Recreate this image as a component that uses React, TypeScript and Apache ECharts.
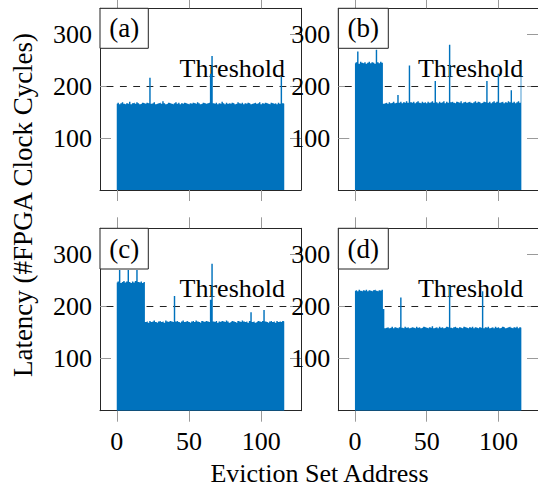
import React, { useEffect, useRef } from "react";
import * as echarts from "echarts";

// ---- data ----
const X_TICKS = [0, 50, 100];
const Y_TICKS = [100, 200, 300];
const THRESHOLD = 200;
const PANEL_LABELS = ["(a)", "(b)", "(c)", "(d)"];
const THRESHOLD_TEXT = "Threshold";
const X_TITLE = "Eviction Set Address";
const Y_TITLE = "Latency (#FPGA Clock Cycles)";

const latencyA = [
  166, 168, 165, 167, 169, 166, 165, 167, 166, 170,
  165, 167, 168, 166, 169, 167, 165, 166, 168, 167,
  166, 168, 167, 216, 166, 167, 169, 165, 166, 167,
  168, 166, 171, 167, 165, 166, 168, 167, 166, 165,
  167, 169, 166, 168, 165, 167, 166, 168, 167, 166,
  165, 167, 166, 168, 167, 166, 169, 167, 165, 166,
  168, 167, 166, 167, 168, 224, 258, 167, 166, 168,
  165, 167, 166, 170, 167, 165, 168, 166, 167, 166,
  168, 167, 165, 166, 169, 167, 166, 168, 165, 167,
  166, 168, 167, 165, 166, 167, 168, 166, 167, 169,
  165, 167, 166, 168, 167, 166, 165, 168, 167, 166,
  167, 165, 168, 166, 218, 167, 166,
];
const latencyB = [
  244, 246, 267, 243, 247, 245, 244, 246, 243, 245,
  247, 244, 246, 245, 243, 270, 246, 244, 247, 245,
  166, 167, 168, 166, 169, 167, 168, 170, 167, 168,
  183, 168, 170, 167, 169, 168, 171, 168, 240, 169,
  168, 170, 167, 169, 171, 168, 167, 170, 168, 169,
  167, 170, 168, 169, 171, 168, 210, 169, 167, 170,
  168, 169, 171, 167, 170, 168, 280, 169, 170, 168,
  167, 170, 169, 168, 171, 167, 169, 170, 168, 169,
  170, 168, 167, 169, 171, 168, 170, 169, 167, 168,
  170, 169, 210, 168, 170, 167, 169, 171, 168, 170,
  224, 168, 169, 170, 167, 169, 168, 171, 169, 192,
  168, 170, 167, 169, 171, 168, 242,
];
const latencyC = [
  246, 248, 270, 245, 247, 249, 246, 248, 270, 247,
  245, 248, 246, 249, 270, 247, 246, 248, 245, 247,
  170, 171, 169, 172, 170, 171, 173, 170, 169, 171,
  172, 170, 171, 169, 173, 171, 170, 172, 171, 170,
  220, 171, 172, 170, 169, 171, 173, 170, 171, 172,
  170, 169, 171, 172, 170, 173, 171, 170, 169, 172,
  171, 170, 172, 171, 170, 213, 282, 171, 170, 172,
  169, 171, 170, 172, 171, 170, 173, 171, 169, 170,
  172, 171, 170, 169, 172, 171, 170, 173, 171, 170,
  171, 169, 172, 189, 170, 171, 169, 170, 172, 171,
  170, 172, 193, 171, 170, 169, 171, 172, 170, 171,
  169, 172, 170, 171, 170, 172, 171,
];
const latencyD = [
  230, 231, 229, 232, 230, 229, 231, 230, 232, 229,
  231, 230, 229, 231, 232, 230, 229, 231, 230, 232,
  195, 158, 159, 160, 158, 159, 161, 158, 160, 159,
  158, 160, 217, 159, 158, 161, 159, 160, 158, 159,
  160, 159, 158, 161, 159, 160, 158, 159, 161, 160,
  159, 158, 160, 159, 162, 158, 159, 160, 158, 161,
  159, 160, 158, 159, 161, 160, 239, 159, 158, 160,
  161, 159, 158, 160, 159, 158, 161, 160, 159, 158,
  160, 159, 161, 158, 160, 159, 158, 160, 159, 229,
  158, 160, 159, 161, 158, 159, 160, 158, 161, 159,
  160, 158, 159, 161, 160, 158, 159, 160, 161, 159,
  158, 160, 159, 161, 158, 160, 159,
];
const PANELS = [latencyA, latencyB, latencyC, latencyD];

// ---- layout ----
const X_MIN = -11.6;
const X_MAX = 127.6;
const Y_MIN = 0;
const Y_MAX = 350;
const GRIDS = [
  { left: 100, top: 8.3, width: 201, height: 181.7 },
  { left: 338.3, top: 8.3, width: 201, height: 181.7 },
  { left: 100, top: 228.3, width: 201, height: 182.4 },
  { left: 338.3, top: 228.3, width: 201, height: 182.4 },
];
const BOX_W = [48.3, 50, 48.3, 50];
const FONT = "Liberation Serif, DejaVu Serif, serif";
const BLUE = "#0072bd";
const AXIS_COLOR = "#262626";
const TICK_COLOR = "#9a9a9a";

export default function App() {
  const ref = useRef<HTMLDivElement>(null);
  useEffect(() => {
    if (!ref.current) return;
    const chart = echarts.init(ref.current, null, { renderer: "svg" });

    const xAxis: any[] = [];
    const yAxis: any[] = [];
    const series: any[] = [];
    const graphic: any[] = [];

    GRIDS.forEach((g, i) => {
      const bottomRow = i >= 2;
      const xBase = {
        gridIndex: i,
        type: "value",
        min: X_MIN,
        max: X_MAX,
        splitLine: { show: false },
        axisLine: { show: true, onZero: false, lineStyle: { color: AXIS_COLOR, width: 1 } },
        axisTick: {
          show: true,
          inside: false,
          length: 11,
          customValues: X_TICKS,
          lineStyle: { color: TICK_COLOR, width: 1 },
        },
      };
      xAxis.push({
        ...xBase,
        position: "bottom",
        axisLabel: {
          show: bottomRow,
          customValues: X_TICKS,
          margin: 18,
          fontSize: 26,
          fontFamily: FONT,
          color: "#000",
        },
      });
      xAxis.push({ ...xBase, position: "top", axisLabel: { show: false } });
      const yBase = {
        gridIndex: i,
        type: "value",
        min: Y_MIN,
        max: Y_MAX,
        splitLine: { show: false },
        axisLine: { show: true, onZero: false, lineStyle: { color: AXIS_COLOR, width: 1 } },
        axisTick: {
          show: true,
          inside: true,
          length: 11,
          customValues: Y_TICKS,
          lineStyle: { color: TICK_COLOR, width: 1 },
        },
      };
      yAxis.push({
        ...yBase,
        position: "left",
        axisLabel: {
          show: true,
          customValues: Y_TICKS,
          margin: 8,
          fontSize: 26,
          fontFamily: FONT,
          color: "#000",
        },
      });
      yAxis.push({ ...yBase, position: "right", axisLabel: { show: false } });

      series.push({
        type: "line",
        xAxisIndex: i * 2,
        yAxisIndex: i * 2,
        data: PANELS[i].map((v, k) => [k, v]),
        step: "middle",
        symbol: "none",
        lineStyle: { width: 0, color: BLUE },
        areaStyle: { color: BLUE, opacity: 1 },
        z: 3,
        markLine: {
          silent: true,
          symbol: "none",
          z: 1,
          label: { show: false },
          lineStyle: { color: "#222", type: [6.8, 6.5], width: 1.2 },
          data: [[{ coord: [-7, THRESHOLD] }, { coord: [X_MAX, THRESHOLD] }]],
        },
      });

      graphic.push({
        type: "text",
        x: g.left + 185,
        y: g.top + 60,
        z: 0,
        style: {
          text: THRESHOLD_TEXT,
          fill: "#000",
          fontSize: 26,
          fontFamily: FONT,
          align: "right",
          verticalAlign: "middle",
        },
      });
      const bh = bottomRow ? 40.7 : 40;
      graphic.push({
        type: "rect",
        shape: { x: g.left, y: g.top, width: BOX_W[i], height: bh },
        style: { fill: "#fff", stroke: "#222", lineWidth: 1 },
        z: 10,
      });
      graphic.push({
        type: "text",
        x: g.left + BOX_W[i] / 2,
        y: g.top + bh / 2,
        z: 11,
        style: {
          text: PANEL_LABELS[i],
          fill: "#000",
          fontSize: 27,
          fontFamily: FONT,
          align: "center",
          verticalAlign: "middle",
        },
      });
    });

    graphic.push({
      type: "text",
      x: 319.5,
      y: 473.5,
      style: {
        text: X_TITLE,
        fill: "#000",
        fontSize: 26,
        fontFamily: FONT,
        align: "center",
        verticalAlign: "middle",
      },
    });
    graphic.push({
      type: "text",
      x: 22.5,
      y: 205,
      rotation: Math.PI / 2,
      style: {
        text: Y_TITLE,
        fill: "#000",
        fontSize: 27,
        fontFamily: FONT,
        align: "center",
        verticalAlign: "middle",
      },
    });

    chart.setOption({
      animation: false,
      backgroundColor: "#fff",
      grid: GRIDS.map((g) => ({ ...g, containLabel: false })),
      xAxis,
      yAxis,
      series,
      graphic,
    });
    return () => chart.dispose();
  }, []);
  return (
    <div
      ref={ref}
      style={{ position: "absolute", left: 0, top: 0, width: 538, height: 488 }}
    />
  );
}
